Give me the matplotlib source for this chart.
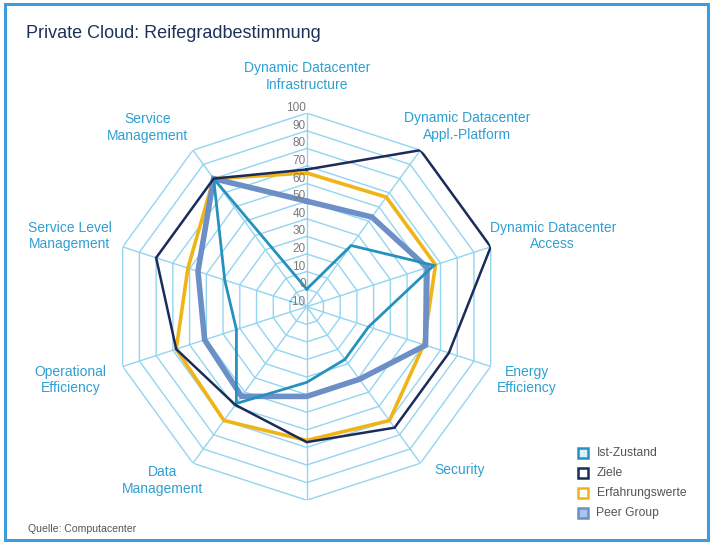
import numpy as np
import matplotlib
matplotlib.use("Agg")
import matplotlib.pyplot as plt
from matplotlib.lines import Line2D
from matplotlib.patches import Rectangle

# ---------------- data ----------------
categories = [
    "Dynamic Datacenter\nInfrastructure",
    "Dynamic Datacenter\nAppl.-Platform",
    "Dynamic Datacenter\nAccess",
    "Energy\nEfficiency",
    "Security",
    "",
    "Data\nManagement",
    "Operational\nEfficiency",
    "Service Level\nManagement",
    "Service\nManagement",
]
ist_zustand = [0, 33, 66, 27, 27, 33, 58, 32, 39, 80]
ziele = [68, 100, 100, 75, 75, 67, 59, 68, 80, 80]
erfahrungswerte = [66, 67, 67, 60, 70, 66, 70, 68, 61, 80]
peer_group = [50, 53, 62, 61, 41, 41, 53, 51, 55, 80]
series_names = ["Ist-Zustand", "Ziele", "Erfahrungswerte", "Peer Group"]
r_ticks = [100, 90, 80, 70, 60, 50, 40, 30, 20, 10, 0, -10]
r_min, r_max = -10, 100

# ---------------- style ----------------
FONT = ["Liberation Sans", "DejaVu Sans"]
plt.rcParams["font.family"] = FONT
grid_color = "#93d5f0"
label_color = "#2f9fd3"
colors = {
    "Ist-Zustand": "#2592bd",
    "Ziele": "#1b2b5a",
    "Erfahrungswerte": "#f1b416",
    "Peer Group": "#6b8fc6",
}
widths = {"Ist-Zustand": 2.0, "Ziele": 1.8, "Erfahrungswerte": 2.6, "Peer Group": 4.0}
zorders = {"Erfahrungswerte": 3, "Peer Group": 4, "Ist-Zustand": 5, "Ziele": 6}
values = {
    "Ist-Zustand": ist_zustand,
    "Ziele": ziele,
    "Erfahrungswerte": erfahrungswerte,
    "Peer Group": peer_group,
}

W, H = 714, 546
fig = plt.figure(figsize=(W / 100, H / 100), dpi=100)
fig.patch.set_facecolor("white")

cx, cy, R = 306.7, 306.7, 193.5
ax = fig.add_axes([(cx - R) / W, (H - cy - R) / H, 2 * R / W, 2 * R / H],
                  projection="polar")
ax.set_theta_zero_location("N")
ax.set_theta_direction(-1)
ax.set_ylim(r_min, r_max)
ax.grid(False)
ax.set_xticks([])
ax.set_yticks([])
ax.spines["polar"].set_visible(False)
ax.patch.set_alpha(0)

n = len(categories)
angles = np.arange(n) * 2 * np.pi / n
angles_closed = np.append(angles, angles[0])

# polygon grid
for r in range(0, 101, 10):
    ax.plot(angles_closed, [r] * (n + 1), color=grid_color, lw=1.0, zorder=1)
for a in angles:
    ax.plot([a, a], [r_min, r_max], color=grid_color, lw=1.0, zorder=1)

# tick labels
for t in r_ticks:
    ax.annotate(str(t), xy=(0, t), xytext=(-1, 5), textcoords="offset pixels",
                ha="right", va="center", fontsize=8.5, color="#7a7a7a", zorder=7)

# series
for name in ["Erfahrungswerte", "Peer Group", "Ist-Zustand", "Ziele"]:
    v = values[name]
    ax.plot(angles_closed, list(v) + [v[0]], color=colors[name], lw=widths[name],
            zorder=zorders[name], solid_joinstyle="miter")

# category labels (offsets from outer vertex, in pixels)
label_offsets = [(0, 37), (47, 24), (62, 11), (36, -13.5), (39, -7), (0, -20),
                 (-30, -17), (-52, -13.5), (-53, 11), (-45, 23)]
for a, lab, off in zip(angles, categories, label_offsets):
    ax.annotate(lab, xy=(a, r_max), xytext=off, textcoords="offset pixels",
                ha="center", va="center", multialignment="center",
                fontsize=10, color=label_color, linespacing=1.25,
                annotation_clip=False)

# title and source
fig.text(26 / W, 1 - 37.5 / H, "Private Cloud: Reifegradbestimmung",
         fontsize=13, color="#1d3158", ha="left", va="baseline")
fig.text(27.5 / W, 1 - 532 / H, "Quelle: Computacenter",
         fontsize=7.6, color="#555555", ha="left", va="baseline")

# legend (manual)
leg_y = [452.7, 472.7, 493.3, 513.3]
faces = {"Ist-Zustand": "#d8f0f8", "Ziele": "white",
         "Erfahrungswerte": "white", "Peer Group": "#a9c6ea"}
for name, yy in zip(series_names, leg_y):
    fy = 1 - yy / H
    fig.add_artist(Line2D([583.3 / W], [fy], transform=fig.transFigure,
                          marker="s", markersize=7.5, linestyle="none",
                          markerfacecolor=faces[name], markeredgecolor=colors[name],
                          markeredgewidth=1.8))
    fig.text(596.5 / W, fy, name, fontsize=8.7, color="#555555",
             ha="left", va="center")

# outer frame
fig.add_artist(Rectangle((5 / W, 6 / H), 703 / W, 536 / H, transform=fig.transFigure,
                         fill=False, edgecolor="#3b9ddb", lw=2.2))

fig.savefig("out.png", dpi=100, facecolor="white")
